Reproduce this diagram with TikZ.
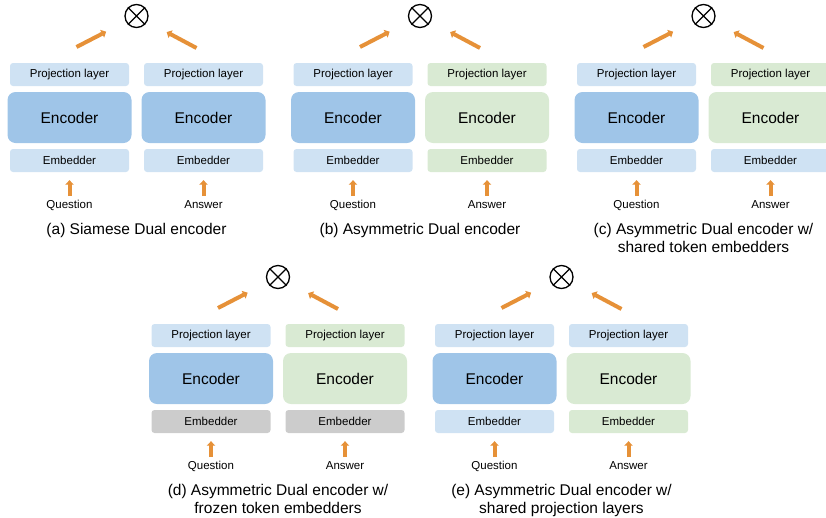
\documentclass[tikz,border=0pt]{standalone}
\usepackage{fontspec}
\setmainfont{Liberation Sans}
\usetikzlibrary{arrows.meta}
\definecolor{pblue}{HTML}{CFE2F3}
\definecolor{eblue}{HTML}{9FC5E8}
\definecolor{pgreen}{HTML}{D9EAD3}
\definecolor{pgray}{HTML}{CCCCCC}
\definecolor{orng}{HTML}{E69138}
\tikzset{
 smallbox/.style={rounded corners=3pt, minimum width=119pt, minimum height=23pt, inner sep=0pt, font=\fontsize{11.5}{13}\selectfont},
 encbox/.style={rounded corners=8pt, minimum width=124pt, minimum height=51pt, inner sep=0pt, font=\fontsize{15.5}{18}\selectfont},
 fb/.style={fill=pblue}, fd/.style={fill=eblue}, fg/.style={fill=pgreen}, fy/.style={fill=pgray},
 arr/.style={draw=orng, line width=4pt, -{Triangle[length=4.5pt,width=8.5pt]}},
 lbl/.style={font=\fontsize{11.5}{13}\selectfont, inner sep=0pt},
 captxt/.style={font=\fontsize{15.5}{18}\selectfont, align=center, inner sep=0pt, anchor=north},
 otimes/.style={circle, draw, line width=1.3pt, minimum size=23pt, inner sep=0pt}
}
\newcommand\dualpanel[8]{%
 \begin{scope}[shift={(#2,#3)}]
 \node[otimes] (#1-o) at (0,0) {};
 \draw[line width=1.3pt] (#1-o.north west) -- (#1-o.south east) (#1-o.north east) -- (#1-o.south west);
 \node[smallbox, fb] (#1-pl) at (-67,58.5) {Projection layer};
 \node[smallbox, #4] (#1-pr) at (67,58.5) {Projection layer};
 \node[encbox, fd] (#1-el) at (-67,101.5) {Encoder};
 \node[encbox, #5] (#1-er) at (67,101.5) {Encoder};
 \node[smallbox, #6] (#1-bl) at (-67,144.5) {Embedder};
 \node[smallbox, #7] (#1-br) at (67,144.5) {Embedder};
 \node[lbl] (#1-ql) at (-67,189) {Question};
 \node[lbl] (#1-qr) at (67,189) {Answer};
 \draw[arr] ([yshift=9pt]#1-ql.center) -- ([yshift=-8pt]#1-bl.south);
 \draw[arr] ([yshift=9pt]#1-qr.center) -- ([yshift=-8pt]#1-br.south);
 \coordinate (#1-sl) at (-60,31);
 \coordinate (#1-sr) at (60,32);
 \draw[arr, shorten >=22pt] (#1-sl) -- (#1-o);
 \draw[arr, shorten >=22pt] (#1-sr) -- (#1-o);
 \node[captxt] (#1-cap) at (0,207) {#8};
 \end{scope}}
\begin{document}
\begin{tikzpicture}[x=1pt,y=-1pt]
\useasboundingbox (0,0) rectangle (826,517);
\clip (0,0) rectangle (826,517);
\dualpanel{a}{136.5}{16}{fb}{fd}{fb}{fb}{(a) Siamese Dual encoder}
\dualpanel{b}{420}{16}{fg}{fg}{fb}{fg}{(b) Asymmetric Dual encoder}
\dualpanel{c}{703.5}{16}{fg}{fg}{fb}{fb}{(c) Asymmetric Dual encoder w/\\shared token embedders}
\dualpanel{d}{278}{277}{fg}{fg}{fy}{fy}{(d) Asymmetric Dual encoder w/\\frozen token embedders}
\dualpanel{e}{561.5}{277}{fb}{fg}{fb}{fg}{(e) Asymmetric Dual encoder w/\\shared projection layers}
\end{tikzpicture}
\end{document}
